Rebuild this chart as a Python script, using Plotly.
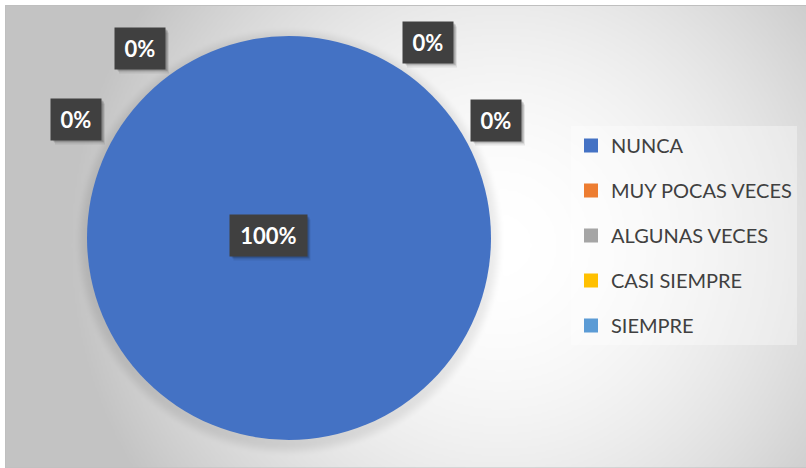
import numpy as np
import plotly.graph_objects as go

# Survey answers and their share of responses (percent)
categories = ["NUNCA", "MUY POCAS VECES", "ALGUNAS VECES", "CASI SIEMPRE", "SIEMPRE"]
share = [100, 0, 0, 0, 0]
colors = ["#4472C4", "#ED7D31", "#A5A5A5", "#FFC000", "#5B9BD5"]

W, H = 806, 468

# Pie geometry in pixels
cx, cy, rad = 289, 238, 202

# Label box centres (pixels), one per category
label_pos = [(268, 235), (428, 42), (496, 120), (140, 48), (76, 119)]

# Radial grey background with a soft halo under the pie
xs = np.arange(6, W + 1, 2.0)
ys = np.arange(6, H + 1, 2.0)
X, Y = np.meshgrid(xs, ys)
r = np.hypot(X - 500, Y - 245) / 430
gray = 255 - 60 * np.clip(r, 0, 1.0) ** 1.8
d = np.hypot(X - cx, Y - (cy + 3))
t = np.clip((d - rad) / 14, 0, 1)
gray -= 20 * (1 - t * t * (3 - 2 * t))
gray = np.round(gray)

fig = go.Figure()

fig.add_trace(go.Heatmap(
    x=xs, y=ys, z=gray, zmin=0, zmax=255,
    colorscale=[[0, "black"], [1, "white"]],
    showscale=False, zsmooth="best", hoverinfo="skip",
))

fig.add_trace(go.Pie(
    labels=categories, values=share,
    marker=dict(colors=colors, line=dict(width=0)),
    sort=False, direction="clockwise", rotation=0,
    textinfo="none", hoverinfo="skip", showlegend=False,
    domain=dict(x=[(cx - rad) / W, (cx + rad) / W],
                y=[1 - (cy + rad) / H, 1 - (cy - rad) / H]),
))

# Legend entries
for cat, col in zip(categories, colors):
    fig.add_trace(go.Scatter(
        x=[None], y=[None], mode="markers", name=cat, legendgroup=cat,
        marker=dict(symbol="square", size=14, color=col, line=dict(width=0)),
        hoverinfo="skip",
    ))

# Percentage labels in dark boxes, each with a soft drop shadow
total = sum(share)
annotations = []
shapes = []
for v, (lx, ly) in zip(share, label_pos):
    txt = f"{round(100 * v / total)}%"
    bw = 50 if len(txt) <= 2 else 77
    bh = 41
    for dx, dy, a in [(4, 5, 0.08), (3, 3, 0.14), (2, 2, 0.12)]:
        shapes.append(dict(
            type="rect", xref="x", yref="y", layer="above",
            x0=lx - bw / 2 + dx, x1=lx + bw / 2 + dx,
            y0=ly - bh / 2 + dy, y1=ly + bh / 2 + dy,
            fillcolor=f"rgba(0,0,0,{a})", line=dict(width=0),
        ))
    annotations.append(dict(
        x=lx, y=ly, xref="x", yref="y", text=f"<b>{txt}</b>", showarrow=False,
        width=bw, height=bh, borderpad=0, bgcolor="#404040",
        font=dict(family="Lato", size=22, color="white"),
    ))

# Chart frame
shapes.append(dict(type="rect", xref="paper", yref="paper",
                   x0=5.5 / W, y0=0, x1=1.01, y1=1 - 5.5 / H,
                   line=dict(color="#bfbfbf", width=1), layer="above"))

fig.update_layout(
    width=W, height=H,
    margin=dict(l=0, r=0, t=0, b=0),
    paper_bgcolor="white", plot_bgcolor="white",
    xaxis=dict(range=[0, W], visible=False, fixedrange=True),
    yaxis=dict(range=[H, 0], visible=False, fixedrange=True),
    legend=dict(
        x=571 / W, y=1 - 126 / H, xanchor="left", yanchor="top",
        bgcolor="rgba(255,255,255,0.35)", borderwidth=0,
        font=dict(family="Lato", size=20, color="#404040"),
        tracegroupgap=16, itemsizing="trace",
    ),
    annotations=annotations,
    shapes=shapes,
    showlegend=True,
)

fig.write_html("out.html")
